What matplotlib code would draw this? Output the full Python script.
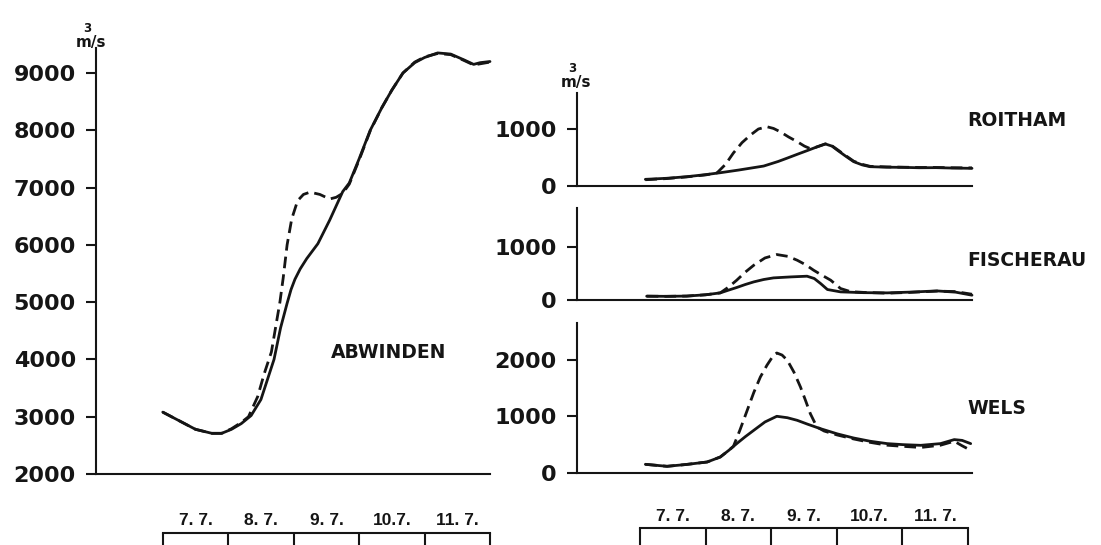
import matplotlib
matplotlib.use("Agg")
import matplotlib.pyplot as plt

# ---------------------------------------------------------------------------
# Discharge hydrographs, July flood (days counted from 7 July, 00:00)
# ---------------------------------------------------------------------------
day_labels = ["7. 7.", "8. 7.", "9. 7.", "10.7.", "11. 7."]

# Abwinden (Danube)
abw_t_solid = [0.0, 0.25, 0.5, 0.75, 0.9, 1.05, 1.2, 1.35, 1.5, 1.6, 1.7, 1.8,
               1.9, 1.96, 2.02, 2.1, 2.2, 2.37, 2.55, 2.75, 2.85, 3.0, 3.17,
               3.35, 3.5, 3.67, 3.85, 4.0, 4.2, 4.4, 4.6, 4.75, 4.85, 5.0]
abw_solid = [3080, 2930, 2780, 2710, 2710, 2780, 2880, 3020, 3300, 3650, 4000,
             4550, 4980, 5220, 5400, 5580, 5760, 6020, 6430, 6930, 7080, 7500,
             8000, 8400, 8700, 9000, 9180, 9270, 9350, 9330, 9230, 9150, 9180,
             9200]
abw_t_dashed = [0.0, 0.25, 0.5, 0.75, 0.9, 1.05, 1.2, 1.31, 1.45, 1.55, 1.66,
                1.79, 1.84, 1.9, 1.97, 2.06, 2.15, 2.25, 2.4, 2.55, 2.65, 2.75,
                2.85, 3.0, 3.17, 3.35, 3.5, 3.67, 3.85, 4.0, 4.2, 4.4, 4.6,
                4.75, 4.85, 5.0]
abw_dashed = [3080, 2930, 2780, 2710, 2710, 2790, 2900, 3000, 3350, 3750, 4130,
              5000, 5420, 6000, 6450, 6770, 6880, 6920, 6880, 6800, 6830, 6900,
              7060, 7480, 7990, 8400, 8700, 9000, 9190, 9280, 9340, 9320, 9220,
              9140, 9160, 9190]

# Roitham (Traun)
roi_t_solid = [0.08, 0.4, 0.71, 1.0, 1.22, 1.5, 1.88, 2.1, 2.24, 2.4, 2.54,
               2.7, 2.82, 2.92, 3.0, 3.12, 3.25, 3.38, 3.5, 3.75, 4.0, 4.25,
               4.5, 4.75, 5.05]
roi_solid = [117, 135, 163, 200, 233, 280, 350, 430, 490, 560, 620, 690, 737,
             700, 630, 530, 427, 370, 339, 330, 327, 320, 322, 315, 310]
roi_t_dashed = [0.08, 0.4, 0.71, 1.0, 1.17, 1.3, 1.42, 1.55, 1.68, 1.8, 1.93,
                2.03, 2.13, 2.26, 2.39, 2.5, 2.6, 2.7, 2.82, 2.92, 3.0, 3.12,
                3.25, 3.38, 3.5, 3.75, 4.0, 4.25, 4.5, 4.75, 5.05]
roi_dashed = [110, 130, 160, 195, 230, 380, 580, 760, 895, 1000, 1040, 1010,
              953, 860, 778, 700, 650, 690, 740, 705, 640, 540, 435, 380, 345,
              335, 330, 325, 325, 320, 318]

# Fischerau (Traun)
fis_t_solid = [0.1, 0.4, 0.71, 1.0, 1.22, 1.35, 1.47, 1.6, 1.73, 1.88, 2.03,
               2.3, 2.54, 2.65, 2.75, 2.85, 3.05, 3.4, 3.76, 4.1, 4.52, 4.8,
               5.05]
fis_solid = [63, 60, 65, 90, 126, 180, 228, 285, 335, 380, 411, 430, 443, 399,
             300, 190, 145, 130, 126, 140, 163, 140, 82]
fis_t_dashed = [0.1, 0.4, 0.71, 1.0, 1.22, 1.35, 1.47, 1.6, 1.73, 1.9, 2.08,
                2.25, 2.39, 2.52, 2.64, 2.77, 2.9, 3.05, 3.2, 3.4, 3.76, 4.1,
                4.52, 4.8, 5.05]
fis_dashed = [63, 60, 65, 90, 126, 240, 367, 520, 652, 790, 855, 820, 747, 660,
              557, 460, 367, 209, 150, 135, 120, 135, 160, 150, 100]

# Wels (Traun)
wel_t_solid = [0.08, 0.41, 0.7, 1.02, 1.22, 1.35, 1.47, 1.6, 1.73, 1.9, 2.08,
               2.24, 2.39, 2.55, 2.74, 3.0, 3.25, 3.5, 3.76, 4.0, 4.27, 4.57,
               4.78, 4.9, 5.03]
wel_solid = [153, 118, 150, 194, 282, 400, 518, 640, 753, 900, 1000, 975, 929,
             860, 783, 690, 617, 560, 518, 500, 488, 518, 589, 575, 518]
wel_t_dashed = [0.08, 0.41, 0.7, 1.02, 1.22, 1.35, 1.42, 1.52, 1.63, 1.73,
                1.83, 1.93, 2.03, 2.08, 2.16, 2.24, 2.34, 2.44, 2.52, 2.59,
                2.69, 2.8, 3.0, 3.25, 3.5, 3.76, 4.0, 4.27, 4.57, 4.78, 4.9,
                5.03]
wel_dashed = [153, 118, 150, 194, 282, 400, 470, 760, 1106, 1420, 1693, 1900,
              2076, 2116, 2080, 1988, 1780, 1517, 1270, 1047, 811, 740, 670,
              600, 540, 490, 470, 450, 490, 560, 480, 400]

abw_yticks = [2000, 3000, 4000, 5000, 6000, 7000, 8000, 9000]
roi_yticks = [0, 1000]
fis_yticks = [0, 1000]
wel_yticks = [0, 1000, 2000]

# ---------------------------------------------------------------------------
W, H = 1101, 545
INK = "#151515"
LW_AX = 1.5
LW_CURVE = 2.0
DASH = (4.2, 2.2)

fig = plt.figure(figsize=(W / 100, H / 100), dpi=100)
fig.patch.set_facecolor("white")


def px_axes(x0, y0, x1, y1):
    """Axes from a pixel box (left, top, right, bottom)."""
    return fig.add_axes([x0 / W, 1 - y1 / H, (x1 - x0) / W, (y1 - y0) / H])


def style_axes(ax, yticks):
    for s in ("top", "right"):
        ax.spines[s].set_visible(False)
    for s in ("left", "bottom"):
        ax.spines[s].set_linewidth(LW_AX)
        ax.spines[s].set_color(INK)
    ax.set_xticks([])
    ax.set_yticks(yticks)
    ax.set_yticklabels([str(v) for v in yticks])
    ax.tick_params(axis="y", direction="out", length=7.5, width=LW_AX,
                   pad=7, labelsize=16, colors=INK)
    for lab in ax.get_yticklabels():
        lab.set_fontweight("bold")
    ax.patch.set_alpha(0)


def draw_pair(ax, ts, ys, td, yd):
    ax.plot(ts, ys, color=INK, lw=LW_CURVE, solid_capstyle="round",
            solid_joinstyle="round", clip_on=False)
    ax.plot(td, yd, color=INK, lw=LW_CURVE, dashes=DASH,
            dash_capstyle="butt", clip_on=False)


def unit_label(x_px, y_px):
    fig.text(x_px / W, 1 - y_px / H, "m/s", ha="center", va="center",
             fontsize=11, fontweight="bold", color=INK)
    fig.text((x_px - 4) / W, 1 - (y_px - 14) / H, "3", ha="center",
             va="center", fontsize=8.5, fontweight="bold", color=INK)


def day_bracket(x0, x1, y_top, y_label):
    ax = px_axes(x0, y_top, x1, H + 2)
    ax.set_xlim(0, len(day_labels))
    ax.set_ylim(0, 1)
    for s in ("left", "right", "bottom"):
        ax.spines[s].set_visible(False)
    ax.spines["top"].set_linewidth(LW_AX)
    ax.spines["top"].set_color(INK)
    ax.set_yticks([])
    ax.set_xticks(range(len(day_labels) + 1))
    ax.set_xticks([i + 0.5 for i in range(len(day_labels))], minor=True)
    ax.set_xticklabels(day_labels, minor=True)
    ax.tick_params(axis="x", which="major", top=True, bottom=False,
                   direction="in", length=20, width=LW_AX, color=INK,
                   labeltop=False, labelbottom=False)
    ax.tick_params(axis="x", which="minor", top=True, bottom=False,
                   length=0, labeltop=True, labelbottom=False,
                   pad=(y_top - y_label) * 0.72 - 4.5)
    for lab in ax.get_xticklabels(minor=True):
        lab.set_family("Liberation Sans")
        lab.set_fontweight("bold")
        lab.set_fontsize(12.5)
        lab.set_color(INK)
    ax.patch.set_alpha(0)


# --- Abwinden -------------------------------------------------------------
ax_abw = px_axes(96, 48, 490, 474)
ax_abw.set_xlim(-1.02, 5.0)
ax_abw.set_ylim(2000, 9436)
style_axes(ax_abw, abw_yticks)
draw_pair(ax_abw, abw_t_solid, abw_solid, abw_t_dashed, abw_dashed)
fig.text(389 / W, 1 - 352 / H, "ABWINDEN", ha="center", va="center",
         fontsize=13.5, fontweight="bold", color=INK)
unit_label(91, 42)
day_bracket(163, 490, 533, 522)

# --- Traun gauges -----------------------------------------------------------
right_panels = [
    ("ROITHAM", 93, 186, 1632, roi_yticks,
     roi_t_solid, roi_solid, roi_t_dashed, roi_dashed, 121),
    ("FISCHERAU", 208, 299.5, 1740, fis_yticks,
     fis_t_solid, fis_solid, fis_t_dashed, fis_dashed, 261),
    ("WELS", 323, 473, 2645, wel_yticks,
     wel_t_solid, wel_solid, wel_t_dashed, wel_dashed, 408),
]
for name, top, bottom, ymax, yt, ts, ys, td, yd, label_y in right_panels:
    ax = px_axes(577, top, 972, bottom)
    ax.set_xlim(-0.96, 5.05)
    ax.set_ylim(0, ymax)
    style_axes(ax, yt)
    draw_pair(ax, ts, ys, td, yd)
    fig.text(967 / W, 1 - label_y / H, name, ha="left", va="center",
             fontsize=13.5, fontweight="bold", color=INK)

unit_label(576, 82)
day_bracket(640, 968, 528, 518)

fig.savefig("out.png", dpi=100, facecolor="white")
